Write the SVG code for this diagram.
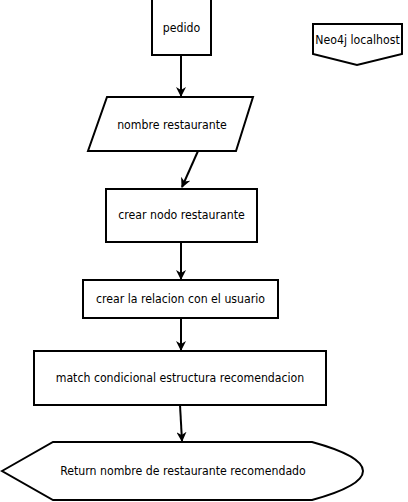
<svg xmlns="http://www.w3.org/2000/svg" width="408" height="502" viewBox="0 0 408 502">
<style>
.s{fill:#fff;stroke:#000;stroke-width:2}
.t{font-family:"DejaVu Sans Condensed","DejaVu Sans",sans-serif;font-stretch:condensed;font-size:12.2px;fill:#000;text-anchor:middle;dominant-baseline:central}
.c{fill:none;stroke:#000;stroke-width:2}
</style>
<defs>
<marker id="a" viewBox="0 0 10 10" refX="9" refY="5" markerWidth="5" markerHeight="5" orient="auto" markerUnits="strokeWidth">
<path d="M0,0 L10,5 L0,10 L3,5 Z" fill="#000"/>
</marker>
</defs>
<rect width="408" height="502" fill="#fff"/>
<g id="connectors">
<line class="c" x1="181" y1="55" x2="181" y2="96" marker-end="url(#a)"/>
<line class="c" x1="198" y1="151" x2="182" y2="187" marker-end="url(#a)"/>
<line class="c" x1="181" y1="242" x2="181" y2="279" marker-end="url(#a)"/>
<line class="c" x1="181" y1="318" x2="181" y2="350" marker-end="url(#a)"/>
<line class="c" x1="180" y1="405" x2="182" y2="441" marker-end="url(#a)"/>
</g>
<g id="pedido">
<rect class="s" x="152" y="-1" width="59" height="56"/>
<text class="t" x="181.5" y="28">pedido</text>
</g>
<g id="neo4j">
<path class="s" d="M313,24 H402 V54 L357,65 L313,54 Z"/>
<text class="t" x="357.5" y="40">Neo4j localhost</text>
</g>
<g id="nombre">
<path class="s" d="M107,97 H253 L236,151 H88 Z"/>
<text class="t" x="172" y="125">nombre restaurante</text>
</g>
<g id="crear-nodo">
<rect class="s" x="106" y="189" width="151" height="53"/>
<text class="t" x="181.5" y="215">crear nodo restaurante</text>
</g>
<g id="crear-relacion">
<rect class="s" x="83" y="280" width="195" height="38"/>
<text class="t" x="180.5" y="299">crear la relacion con el usuario</text>
</g>
<g id="match">
<rect class="s" x="34" y="351" width="292" height="54"/>
<text class="t" x="180" y="378">match condicional estructura recomendacion</text>
</g>
<g id="return">
<path class="s" d="M2,471 L53,442 H312 Q363,456 363,471 Q363,486 312,500 H53 Z"/>
<text class="t" x="183" y="471">Return nombre de restaurante recomendado</text>
</g>
</svg>
